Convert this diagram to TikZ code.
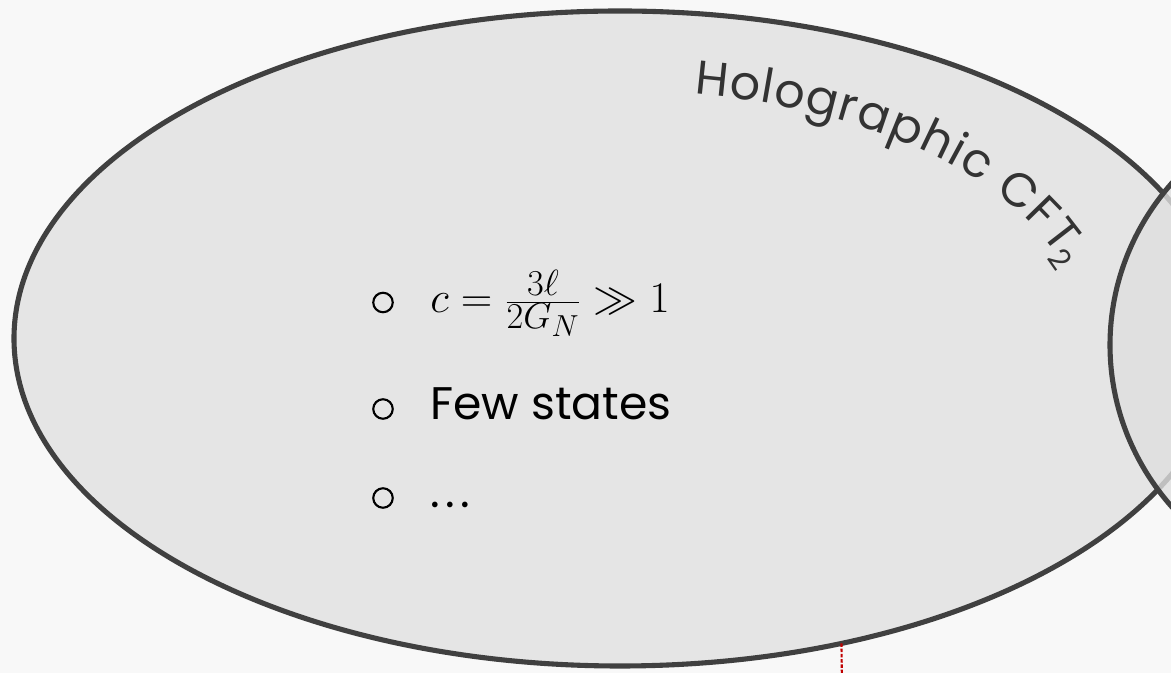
\documentclass[tikz,border=0pt]{standalone}
\usepackage[no-math]{fontspec}
\setmainfont{Poppins}
\usetikzlibrary{shapes.geometric,decorations.text,positioning}
\definecolor{bgcol}{HTML}{F8F8F8}
\definecolor{setfill}{HTML}{E5E5E5}
\definecolor{otherfill}{HTML}{DFDFDF}
\definecolor{rimcol}{HTML}{404040}
\definecolor{labelcol}{HTML}{333333}
\definecolor{cutred}{HTML}{C00000}
\tikzset{
  setblob/.style={draw=rimcol, line width=2.9pt, ellipse, inner sep=0pt, outer sep=0pt},
  bulletmark/.style={draw=black, circle, line width=1.2pt, minimum size=0.39cm, inner sep=0pt},
  itemtext/.style={anchor=base west, inner sep=0pt, font=\fontsize{26}{30}\selectfont},
}

\begin{document}
\begin{tikzpicture}
    \useasboundingbox (0,0) rectangle (23.42,13.46);
    \fill[bgcol] (0,0) rectangle (23.42,13.46);
    \clip (0,0) rectangle (23.42,13.46);
    % the two sets
    \node[setblob, fill=setfill, minimum width=24.24cm, minimum height=13.1cm] (holo) at (12.4,6.69) {};
    \node[setblob, fill=otherfill, fill opacity=0.8, minimum width=10.4cm, minimum height=10cm] (other) at (27.4,6.56) {};
    \coordinate (cutend) at (16.84,-0.3);
    \draw[cutred, line width=1.2pt, dash pattern=on 2pt off 1pt] (holo.-54.6) -- (cutend);
    % curved title
    \path[decorate, decoration={text along path, text color=labelcol,
        text={|\fontsize{27}{32}\selectfont\kern0.8pt|Holographic CFT}}]
        (12.4,6.69) ++(81:9.28 and 4.96) arc[start angle=81, end angle=5, x radius=9.28, y radius=4.96];
    \node[rotate=-55, text=labelcol, font=\fontsize{17}{20}\selectfont] (sub) at (21.2,8.28) {2};
    % items
    \node[bulletmark] (b1) at (7.66,7.41) {};
    \node[bulletmark] (b2) at (7.66,5.28) {};
    \node[bulletmark] (b3) at (7.66,3.5) {};
    \node[itemtext, font=\fontsize{32}{37}\selectfont] (i1) at (8.6,7.2) {$c=\frac{3\ell}{2G_N}\gg 1$};
    \node[itemtext] (i2) at (8.6,5.06) {Few states};
    \node[itemtext] (i3) at (8.6,3.3) {.\kern3pt.\kern3pt.};
\end{tikzpicture}
\end{document}
